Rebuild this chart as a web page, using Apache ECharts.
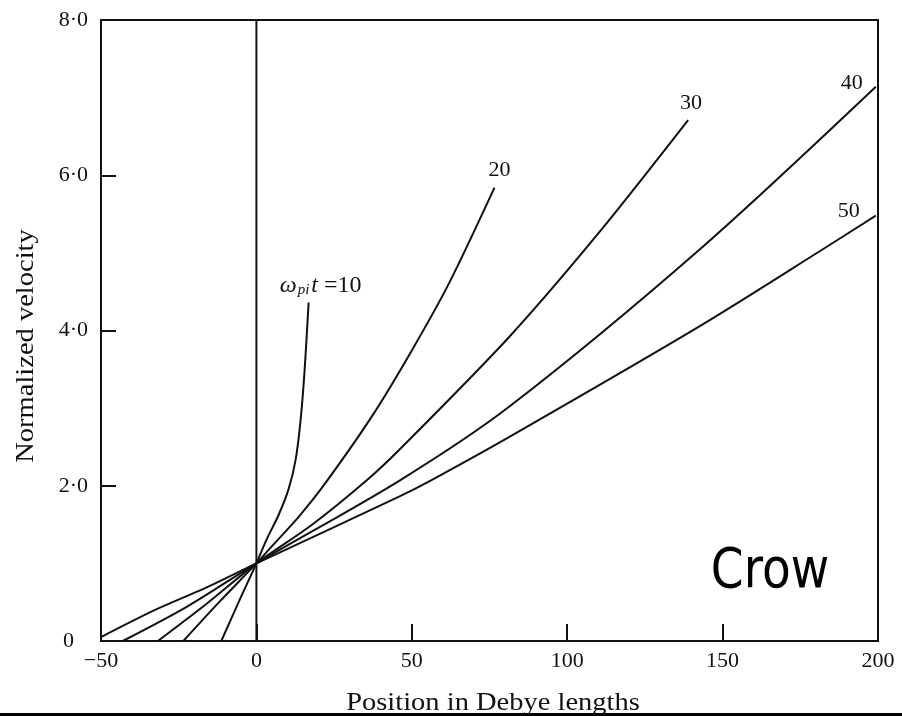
<!DOCTYPE html>
<html>
<head>
<meta charset="utf-8">
<script src="https://cdn.jsdelivr.net/npm/echarts@6/dist/echarts.min.js"></script>
<style>
  html, body { margin: 0; padding: 0; background: #fff; }
  #chart { width: 902px; height: 716px; }
</style>
</head>
<body>
<div id="chart"></div>
<script>
// Axis ranges and tick labels
const xRange = [-50, 200];
const xStep = 50;
const yRange = [0, 8];
const yStep = 2;
const yTickLabels = { 0: '0', 2: '2·0', 4: '4·0', 6: '6·0', 8: '8·0' };

// Normalized velocity profiles at successive times (ω_pi t)
const curveTimes = [10, 20, 30, 40, 50];
const curve10 = [[-11.3, 0], [-5.5, 0.52], [0, 1], [3.2, 1.3], [7.1, 1.62], [10.3, 1.95], [12.6, 2.33], [14.2, 2.84], [15.5, 3.48], [16.8, 4.36]];
const curve20 = [[-23.5, 0], [-12, 0.5], [0, 1], [4.5, 1.2], [13.6, 1.6], [22.3, 2.04], [37.1, 2.89], [50.1, 3.75], [62.0, 4.61], [76.6, 5.84]];
const curve30 = [[-31.7, 0], [-16, 0.48], [0, 1], [18, 1.5], [35.5, 2.07], [45.9, 2.46], [81.4, 3.92], [110, 5.25], [138.9, 6.71]];
const curve40 = [[-43, 0], [-22, 0.45], [0, 1], [46.2, 2.07], [81.4, 3.02], [142.8, 5.05], [199.3, 7.14]];
const curve50 = [[-50, 0.05], [-32.6, 0.40], [-16, 0.69], [0, 1], [45.9, 1.86], [56.2, 2.07], [81.4, 2.63], [142.8, 4.06], [182, 5.04], [199.3, 5.48]];
const curves = [curve10, curve20, curve30, curve40, curve50];

// The reference line x = 0
const originLine = [[0, 0], [0, 8]];

const ink = '#111';
const serif = '"Liberation Serif", "DejaVu Serif", serif';

// Label placement relative to each curve's last point
const labelOffsets = [[12, -17], [5, -17], [3, -17], [-24, -4], [-27, -4]];

const chart = echarts.init(document.getElementById('chart'), null, { renderer: 'canvas' });

const curveSeries = curves.map((data, i) => {
  const last = data[data.length - 1];
  const isFirst = i === 0;
  return {
    type: 'line',
    name: 'ω_pi t = ' + curveTimes[i],
    data: data,
    smooth: 0.3,
    showSymbol: false,
    silent: true,
    lineStyle: { color: ink, width: 2 },
    z: 3,
    markPoint: {
      symbol: 'circle',
      symbolSize: 1,
      silent: true,
      itemStyle: { color: 'rgba(0,0,0,0)' },
      data: [{
        coord: last,
        label: {
          show: true,
          offset: labelOffsets[i],
          color: ink,
          fontFamily: serif,
          fontSize: 22,
          formatter: isFirst ? '{w|ω}{s|pi}{t|t}{n| =' + curveTimes[i] + '}' : String(curveTimes[i]),
          rich: {
            w: { fontFamily: serif, fontStyle: 'italic', fontSize: 24, color: ink, lineHeight: 26 },
            s: { fontFamily: serif, fontStyle: 'italic', fontSize: 15, color: ink, padding: [10, 2, 0, 1], lineHeight: 26 },
            t: { fontFamily: serif, fontStyle: 'italic', fontSize: 24, color: ink, lineHeight: 26 },
            n: { fontFamily: serif, fontSize: 24, color: ink, lineHeight: 26 }
          }
        }
      }]
    }
  };
});

const option = {
  backgroundColor: '#fff',
  animation: false,
  grid: {
    left: 101, right: 24, top: 20, bottom: 75,
    show: true, borderColor: ink, borderWidth: 2, backgroundColor: 'transparent'
  },
  xAxis: {
    type: 'value',
    min: xRange[0], max: xRange[1], interval: xStep,
    axisLine: { show: false, onZero: false },
    axisTick: { show: true, inside: true, length: 17, lineStyle: { color: ink, width: 2 } },
    splitLine: { show: false },
    axisLabel: {
      margin: 9,
      fontFamily: serif, fontSize: 22, color: ink,
      formatter: v => (v < 0 ? '\u2212' + Math.abs(v) : String(v))
    }
  },
  yAxis: {
    type: 'value',
    min: yRange[0], max: yRange[1], interval: yStep,
    axisLine: { show: false, onZero: false },
    axisTick: { show: true, inside: true, length: 15, lineStyle: { color: ink, width: 2 } },
    splitLine: { show: false },
    axisLabel: {
      margin: 13,
      fontFamily: serif, fontSize: 22, color: ink,
      formatter: v => (v === 0 ? '{z|0}' : yTickLabels[v]),
      rich: { z: { fontFamily: serif, fontSize: 22, color: ink, padding: [0, 14, 0, 0] } }
    }
  },
  graphic: [
    {
      type: 'text',
      x: 493, y: 703,
      scaleX: 1.14,
      style: {
        text: 'Position in Debye lengths',
        font: '25px ' + serif,
        fill: ink,
        align: 'center',
        verticalAlign: 'middle'
      }
    },
    {
      type: 'text',
      x: 26, y: 346,
      rotation: Math.PI / 2,
      scaleX: 1.14,
      style: {
        text: 'Normalized velocity',
        font: '25px ' + serif,
        fill: ink,
        align: 'center',
        verticalAlign: 'middle'
      }
    },
    {
      type: 'text',
      x: 770, y: 572,
      scaleX: 0.84,
      style: {
        text: 'Crow',
        font: '56px "DejaVu Sans", sans-serif',
        fill: '#000',
        align: 'center',
        verticalAlign: 'middle'
      }
    },
    {
      type: 'rect',
      shape: { x: 0, y: 713, width: 902, height: 3 },
      style: { fill: '#000' }
    }
  ],
  series: [
    {
      type: 'line',
      name: 'x = 0',
      data: originLine,
      showSymbol: false,
      silent: true,
      lineStyle: { color: ink, width: 2 },
      z: 2
    }
  ].concat(curveSeries)
};

chart.setOption(option);
</script>
</body>
</html>
